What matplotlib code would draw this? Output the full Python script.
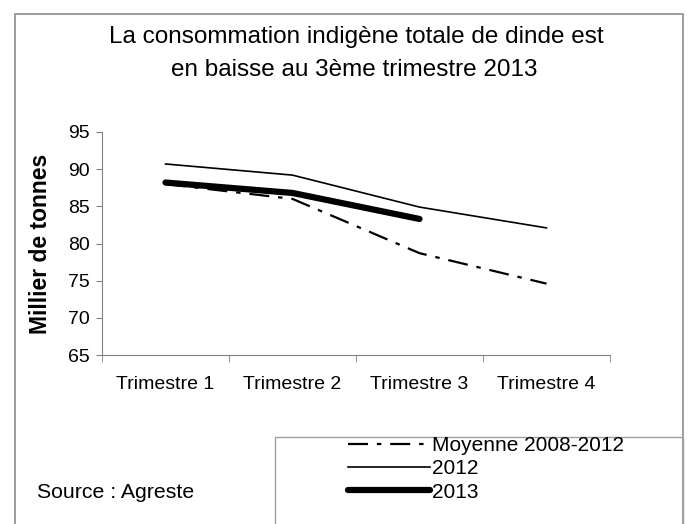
import matplotlib.pyplot as plt
from matplotlib.patches import Rectangle

categories = ["Trimestre 1", "Trimestre 2", "Trimestre 3", "Trimestre 4"]
moyenne = [88.0, 86.0, 78.7, 74.6]
y2012 = [90.7, 89.2, 84.9, 82.1]
y2013 = [88.2, 86.8, 83.3]
yticks = [65, 70, 75, 80, 85, 90, 95]

plt.rcParams["font.family"] = ["Liberation Sans Narrow", "Liberation Sans", "DejaVu Sans"]

fig = plt.figure(figsize=(6.88, 5.24), dpi=100)

# outer chart frame
fig.patches.append(Rectangle((15 / 688, -0.05), 668 / 688, 1.05 - 14 / 524,
                             transform=fig.transFigure, fill=False,
                             edgecolor="#8c8c8c", linewidth=1.2))

ax = fig.add_axes([102 / 688, 1 - 355 / 524, 508 / 688, 223 / 524])

x = range(len(categories))
ax.plot(x, moyenne, color="black", linewidth=1.6, dashes=(9, 4, 2, 4),
        label="Moyenne 2008-2012")
ax.plot(x, y2012, color="black", linewidth=1.2, label="2012")
ax.plot(range(len(y2013)), y2013, color="black", linewidth=4.5,
        solid_capstyle="round", label="2013")

ax.set_xlim(-0.5, 3.5)
ax.set_ylim(65, 95)
ax.set_yticks(yticks)
ax.set_xticks(list(x))
ax.set_xticklabels(categories)
ax.set_xticks([-0.5, 0.5, 1.5, 2.5, 3.5], minor=True)
ax.tick_params(axis="x", which="major", length=0, pad=15, labelsize=14)
ax.tick_params(axis="x", which="minor", length=5, color="#808080")
ax.tick_params(axis="y", length=4, pad=5, labelsize=14, color="#808080")

for side in ["top", "right"]:
    ax.spines[side].set_visible(False)
for side in ["left", "bottom"]:
    ax.spines[side].set_color("#808080")

ax.set_ylabel("Millier de tonnes", fontsize=16.5, fontweight="bold",
              family=["Liberation Sans", "DejaVu Sans"], labelpad=11)

fig.text(356 / 688, 1 - 37 / 524, "La consommation indigène totale de dinde est",
         ha="center", va="center", fontsize=17.5)
fig.text(354 / 688, 1 - 70 / 524, "en baisse au 3ème trimestre 2013",
         ha="center", va="center", fontsize=17.5)

fig.text(37 / 688, 1 - 492 / 524, "Source : Agreste", ha="left", va="center",
         fontsize=15.3)

# legend box
fig.patches.append(Rectangle((275 / 688, -0.05), 408 / 688, 0.05 + 1 - 437 / 524,
                             transform=fig.transFigure, fill=False,
                             edgecolor="#a0a0a0", linewidth=1.0))
leg = fig.legend(loc="upper left", bbox_to_anchor=(340 / 688, 1 - 428 / 524),
                 frameon=False, fontsize=15, handlelength=3.9,
                 handletextpad=0.1, labelspacing=0.2, borderaxespad=0)

fig.savefig("out.png", dpi=100)
